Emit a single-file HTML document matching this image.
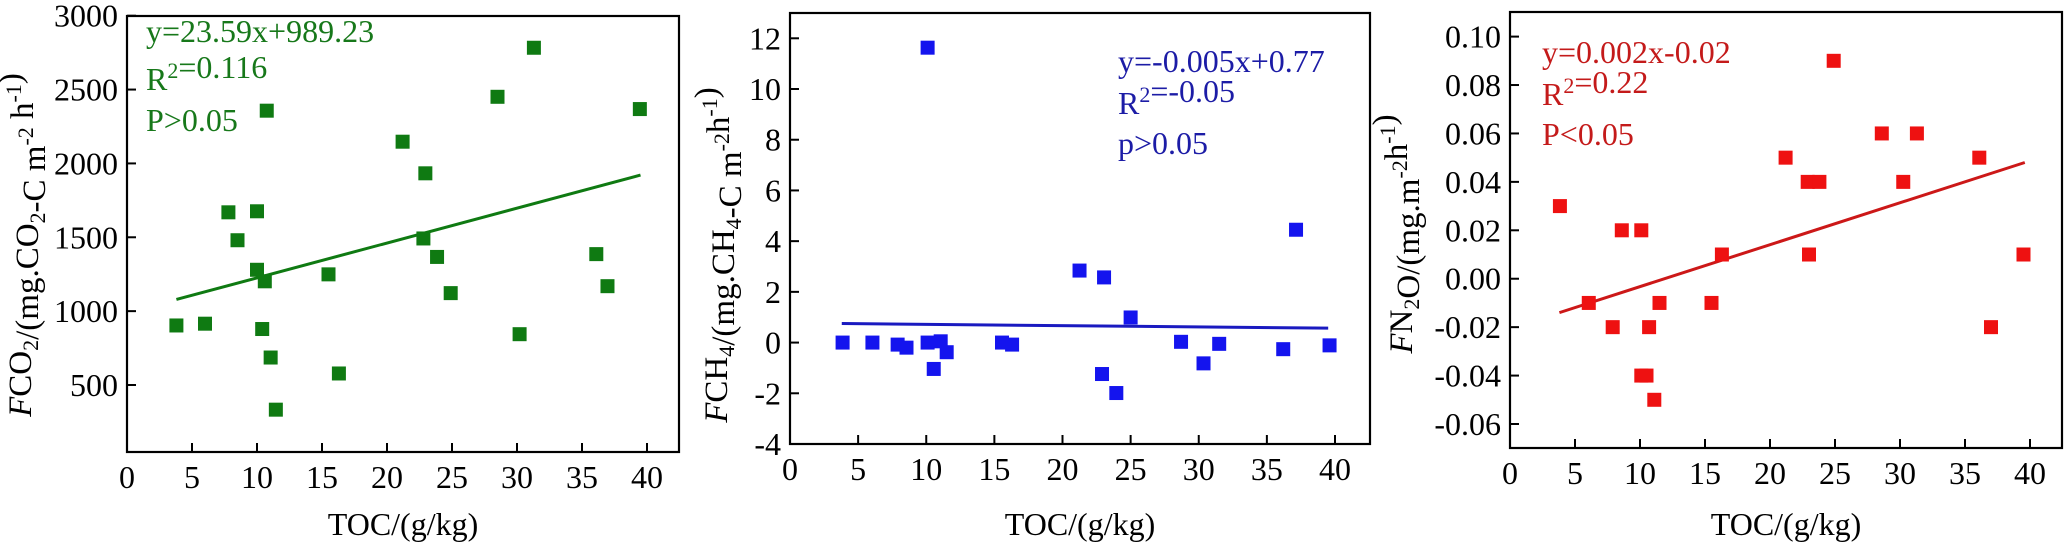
<!DOCTYPE html>
<html><head><meta charset="utf-8"><style>
html,body{margin:0;padding:0;background:#fff;}
svg{display:block;font-family:"Liberation Serif",serif;}
svg text{font-family:"Liberation Serif",serif;}
</style></head><body>
<svg id="chart" width="2067" height="546" viewBox="0 0 2067 546" xmlns="http://www.w3.org/2000/svg"></svg>
<script>
// ---- data ----
const co2TOC = [3.8,6.0,7.8,10.0,8.5,10.0,10.6,10.4,10.75,11.05,11.45,15.5,16.3,21.2,22.95,22.8,23.85,24.9,28.5,31.3,30.2,36.1,36.96,39.45];
const co2Flux = [903,915,1669,1676,1480,1280,1202,879,2357,686,333,1249,578,2147,1933,1492,1367,1122,2451,2783,844,1386,1169,2368];
const co2FitX = [3.8,39.5];
const co2FitY = [1079,1921];
const co2Ticks = [500,1000,1500,2000,2500,3000];

const ch4TOC = [3.86,6.05,7.9,8.55,10.1,10.1,10.55,11.06,11.5,15.56,16.3,21.25,23.05,22.9,23.95,25.0,28.7,30.35,31.5,36.2,37.14,39.6];
const ch4Flux = [0,0,-0.08,-0.2,0,11.63,-1.04,0.05,-0.38,0,-0.08,2.84,2.57,-1.24,-1.99,0.99,0.03,-0.82,-0.05,-0.26,4.45,-0.11];
const ch4FitX = [3.8,39.5];
const ch4FitY = [0.75,0.57];
const ch4Ticks = [-4,-2,0,2,4,6,8,10,12];

const n2oTOC = [3.84,6.06,7.9,8.6,10.1,10.1,10.5,10.7,11.1,11.5,15.5,16.3,21.2,22.9,23.8,23.0,24.9,28.6,31.3,30.25,36.1,37.0,39.5];
const n2oFlux = [0.03,-0.01,-0.02,0.02,0.02,-0.04,-0.04,-0.02,-0.05,-0.01,-0.01,0.01,0.05,0.04,0.04,0.01,0.09,0.06,0.06,0.04,0.05,-0.02,0.01];
const n2oFitX = [3.8,39.6];
const n2oFitY = [-0.014,0.048];
const n2oTicks = [-0.06,-0.04,-0.02,0.00,0.02,0.04,0.06,0.08,0.10];

const xTicks = [0,5,10,15,20,25,30,35,40];

// ---- drawing ----
const NS = "http://www.w3.org/2000/svg";
const svg = document.getElementById('chart');
const FF = '"Liberation Serif", serif';
function mk(tag, attrs, parent){
  const e = document.createElementNS(NS, tag);
  for (const k in attrs) e.setAttribute(k, attrs[k]);
  if (tag === 'text') e.setAttribute('font-family', FF);
  (parent||svg).appendChild(e);
  return e;
}

function panel(cfg){
  const g = mk('g', {});
  
  
  const xs = v => cfg.x0 + (v - 0) / 40 * (cfg.x40 - cfg.x0);
  const ys = v => cfg.yA + (v - cfg.vA) / (cfg.vB - cfg.vA) * (cfg.yB - cfg.yA);
  const fr = mk('rect', {x:cfg.left, y:cfg.top, width:cfg.right-cfg.left, height:cfg.bottom-cfg.top, fill:'none', stroke:'#000', 'stroke-width':2.2}, g);
  
  
  xTicks.forEach(t => {
    const x = xs(t);
    if (t > 0) {
      const tk = mk('line', {x1:x, x2:x, y1:cfg.bottom, y2:cfg.bottom-9, stroke:'#000', 'stroke-width':2}, g);
      
      
    }
    const lb = mk('text', {x:x, y:cfg.bottom+36, 'font-size':32, 'text-anchor':'middle', fill:'#000'}, g);
    lb.textContent = t;
    
    
  });
  cfg.ticks.forEach(t => {
    const y = ys(t);
    const tk = mk('line', {x1:cfg.left, x2:cfg.left+9, y1:y, y2:y, stroke:'#000', 'stroke-width':2}, g);
    
    
    const lb = mk('text', {x:cfg.left-9, y:y+11, 'font-size':32, 'text-anchor':'end', fill:'#000'}, g);
    lb.textContent = cfg.fmt(t);
    
    
  });
  const ln = mk('line', {x1:xs(cfg.fitX[0]), y1:ys(cfg.fitY[0]), x2:xs(cfg.fitX[1]), y2:ys(cfg.fitY[1]), stroke:cfg.line, 'stroke-width':3}, g);
  
  
  cfg.xv.forEach((v, i) => {
    const s = 14;
    const p = mk('rect', {x:xs(v)-s/2, y:ys(cfg.yv[i])-s/2, width:s, height:s, fill:cfg.marker}, g);
    
    
  });
  cfg.ann.forEach((a, i) => {
    const t = mk('text', {x:cfg.annX, y:cfg.annY[i], 'font-size':32, fill:cfg.text}, g);
    t.innerHTML = a;
    
    
  });
  const xt = mk('text', {x:cfg.xtX, y:535, 'font-size':32, 'text-anchor':'middle', fill:'#000'}, g);
  xt.textContent = 'TOC/(g/kg)';
  
  
  const yt = mk('text', {x:0, y:0, 'font-size':33, 'text-anchor':'middle', fill:'#000', transform:`translate(${cfg.ytX},${cfg.ytY}) rotate(-90)`}, g);
  yt.innerHTML = cfg.ytitle;
  
  
}

const sub = s => `<tspan dy="7" font-size="22">${s}</tspan><tspan dy="-7"></tspan>`;
const sup = s => `<tspan dy="-12" font-size="22">${s}</tspan><tspan dy="12"></tspan>`;

panel({name:'co2-panel', left:127, right:679, top:16, bottom:452, x0:127, x40:647,
  vA:3000, yA:15.7, vB:500, yB:385, ticks:co2Ticks, fmt:t=>String(t),
  xv:co2TOC, yv:co2Flux, fitX:co2FitX, fitY:co2FitY,
  marker:'#0f7a12', line:'#0f7a12', text:'#17781a',
  ann:['y=23.59x+989.23', 'R'+sup('2')+'=0.116', 'P&gt;0.05'], annX:146, annY:[42,90,131],
  xtX:403, ytX:31, ytY:245,
  ytitle:'<tspan font-style="italic">F</tspan>CO'+sub('2')+'/(mg.CO'+sub('2')+'-C m'+sup('-2')+' h'+sup('-1')+')'});

panel({name:'ch4-panel', left:790, right:1370, top:13, bottom:444, x0:790, x40:1335,
  vA:12, yA:38.3, vB:-4, yB:444, ticks:ch4Ticks, fmt:t=>String(t),
  xv:ch4TOC, yv:ch4Flux, fitX:ch4FitX, fitY:ch4FitY,
  marker:'#1414ee', line:'#1a1ac0', text:'#1c1ca6',
  ann:['y=-0.005x+0.77', 'R'+sup('2')+'=-0.05', 'p&gt;0.05'], annX:1118, annY:[72,114,154],
  xtX:1080, ytX:727, ytY:255,
  ytitle:'<tspan font-style="italic">F</tspan>CH'+sub('4')+'/(mg.CH'+sub('4')+'-C m'+sup('-2')+'h'+sup('-1')+')'});

panel({name:'n2o-panel', left:1510, right:2062, top:12, bottom:448, x0:1510, x40:2030,
  vA:0.10, yA:36.6, vB:-0.06, yB:424, ticks:n2oTicks, fmt:t=>t.toFixed(2),
  xv:n2oTOC, yv:n2oFlux, fitX:n2oFitX, fitY:n2oFitY,
  marker:'#ee1111', line:'#cc1818', text:'#c41a1a',
  ann:['y=0.002x-0.02', 'R'+sup('2')+'=0.22', 'P&lt;0.05'], annX:1542, annY:[63,105,145],
  xtX:1786, ytX:1412, ytY:234,
  ytitle:'<tspan font-style="italic">F</tspan>N'+sub('2')+'O/(mg.m'+sup('-2')+'h'+sup('-1')+')'});
</script>
</body></html>
